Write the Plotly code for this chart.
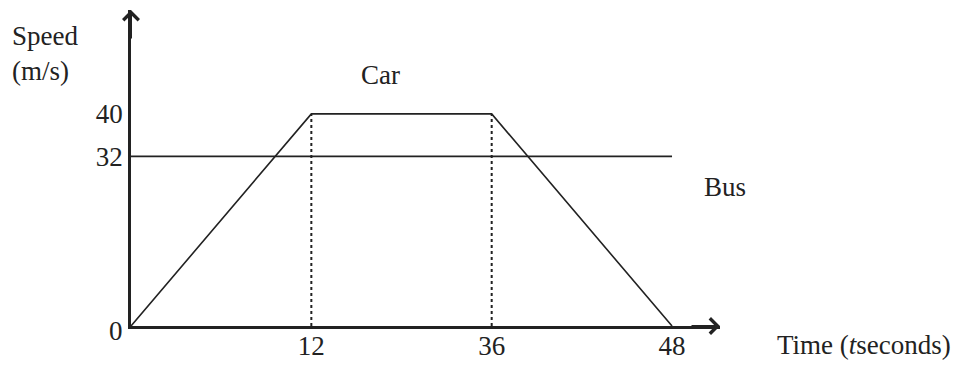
import plotly.graph_objects as go

# Data
time_points = [0, 12, 36, 48]
car_speed = [0, 40, 40, 0]
bus_time = [0, 48]
bus_speed = [32, 32]
x_tick_labels = ["12", "36", "48"]
y_tick_values = [32, 40]

cats = [str(t) for t in time_points]
FONT = "Liberation Serif"
INK = "#222222"
FS = 27

fig = go.Figure()

# Dotted guide lines at the plateau corners
for t, v in zip(time_points, car_speed):
    if v == max(car_speed):
        fig.add_trace(go.Scatter(x=[str(t), str(t)], y=[0, v], mode="lines",
                                 line=dict(color=INK, width=2, dash="dot"),
                                 showlegend=False, hoverinfo="skip"))

fig.add_trace(go.Scatter(x=[str(t) for t in bus_time], y=bus_speed, mode="lines",
                         line=dict(color=INK, width=1.6), name="Bus", showlegend=False))
fig.add_trace(go.Scatter(x=cats, y=car_speed, mode="lines",
                         line=dict(color=INK, width=1.6), name="Car", showlegend=False))

# page body has an 8px margin -> compensate
W, H = 954, 359
L, R, T, B = 123, 242, 2, 41

fig.update_layout(
    width=W, height=H,
    margin=dict(l=L, r=R, t=T, b=B, autoexpand=False),
    paper_bgcolor="white", plot_bgcolor="white",
    font=dict(family=FONT, size=FS, color=INK),
    xaxis=dict(type="category", categoryorder="array", categoryarray=cats,
               range=[0, 3.266], showgrid=False, zeroline=False,
               showline=True, linecolor=INK, linewidth=2.5,
               tickmode="array", tickvals=x_tick_labels, ticktext=x_tick_labels,
               ticks="", automargin=False, ticklabelstandoff=-6,
               tickfont=dict(family=FONT, size=FS, color=INK)),
    yaxis=dict(range=[0, 59.6], showgrid=False, zeroline=False,
               showline=True, linecolor=INK, linewidth=2.5,
               tickmode="array", tickvals=y_tick_values,
               ticktext=[str(v) for v in y_tick_values],
               ticks="", automargin=False,
               tickfont=dict(family=FONT, size=FS, color=INK)),
)

# Arrowheads at the axis ends
fig.add_annotation(x=1, y=0, xref="paper", yref="paper", ax=-30, ay=0,
                   showarrow=True, arrowhead=4, arrowsize=1.5, arrowwidth=2,
                   arrowcolor=INK, text="")
fig.add_annotation(x=0, y=1, xref="paper", yref="paper", ax=0, ay=30,
                   showarrow=True, arrowhead=4, arrowsize=1.5, arrowwidth=2,
                   arrowcolor=INK, text="")

# Origin label
fig.add_annotation(x=0, y=0, xref="paper", yref="y", xanchor="right", yanchor="middle",
                   xshift=-6, yshift=-5, showarrow=False, text="0",
                   font=dict(family=FONT, size=FS, color=INK))

# Text labels
fig.add_annotation(x=-0.205, y=0.861, xref="paper", yref="paper", xanchor="left",
                   yanchor="middle", align="left", showarrow=False,
                   text="Speed<br>(m/s)", font=dict(family=FONT, size=FS, color=INK))
fig.add_annotation(x=0.423, y=0.794, xref="paper", yref="paper", xanchor="center",
                   yanchor="middle", showarrow=False,
                   text="Car", font=dict(family=FONT, size=FS, color=INK))
fig.add_annotation(x=1.008, y=0.44, xref="paper", yref="paper", xanchor="center",
                   yanchor="middle", showarrow=False,
                   text="Bus", font=dict(family=FONT, size=FS, color=INK))
fig.add_annotation(x=1.093, y=-0.06, xref="paper", yref="paper", xanchor="left",
                   yanchor="middle", showarrow=False, text="Time (<i>t</i>seconds)",
                   font=dict(family=FONT, size=FS, color=INK))

fig.write_html("out.html")
